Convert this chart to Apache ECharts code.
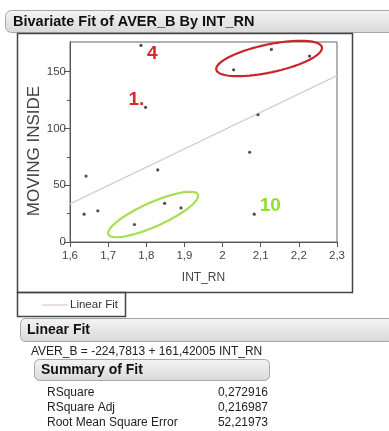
<!DOCTYPE html>
<html>
<head>
<meta charset="utf-8">
<script src="https://cdn.jsdelivr.net/npm/echarts@6/dist/echarts.min.js"></script>
<style>
html,body{margin:0;padding:0;background:#fff;}
#c{width:389px;height:431px;}
</style>
</head>
<body>
<div id="c"></div>
<script>
// ---- data ----
var intRN   = [1.786, 1.798, 1.642, 1.830, 2.029, 2.128, 2.228, 2.093, 2.071, 1.637, 1.673, 1.769, 1.848, 1.891, 2.083];
var averB   = [173, 118.5, 58, 63.4, 151.5, 169.5, 163.6, 112, 79, 24.5, 27.4, 15.4, 34, 30, 24.5];
var fitIntercept = -224.7813;
var fitSlope = 161.42005;
var xTicks = [1.6, 1.7, 1.8, 1.9, 2.0, 2.1, 2.2, 2.3];
var yTicks = [0, 50, 100, 150];
var yMinorTicks = [25, 75, 125];
var statNames  = ['RSquare', 'RSquare Adj', 'Root Mean Square Error'];
var statValues = ['0,272916', '0,216987', '52,21973'];
var equationText = 'AVER_B = -224,7813 + 161,42005 INT_RN';
// annotations: label, anchor (data coords), colour
var notes = [
  {text: '4',  x: 1.816, y: 166, color: '#d42a2a'},
  {text: '1.', x: 1.774, y: 125, color: '#d42a2a'},
  {text: '10', x: 2.125, y: 32,  color: '#8fe02e'}
];
var rings = [
  {x: 2.122, y: 161.5, a: 54, b: 14, rot: 12, color: '#c8262b'},
  {x: 1.818, y: 24.2,  a: 49, b: 12, rot: 24, color: '#a4e050'}
];

var FONT = '"Liberation Sans", Arial, sans-serif';
var pts = intRN.map(function (x, i) { return [x, averB[i]]; });
var xMin = 1.6, xMax = 2.3;
var fitLine = [[xMin, fitIntercept + fitSlope * xMin], [xMax, fitIntercept + fitSlope * xMax]];
function fmtX(v) { return String(Math.round(v * 10) / 10).replace('.', ','); }

var chart = echarts.init(document.getElementById('c'), null, {renderer: 'canvas'});

var option = {
  animation: false,
  backgroundColor: '#fff',
  grid: {left: 70, right: 52, top: 42, bottom: 189, show: true, borderColor: '#666', borderWidth: 1, backgroundColor: 'transparent'},
  xAxis: {
    type: 'value', min: xMin, max: xMax, interval: 0.1,
    name: 'INT_RN', nameLocation: 'middle', nameGap: 30,
    nameTextStyle: {fontFamily: FONT, fontSize: 12, color: '#444'},
    axisLine: {show: true, lineStyle: {color: '#555', width: 1}},
    axisTick: {show: true, length: 5, lineStyle: {color: '#555'}, customValues: xTicks},
    axisLabel: {fontFamily: FONT, fontSize: 11.5, color: '#444', margin: 8, formatter: fmtX, customValues: xTicks},
    splitLine: {show: false}
  },
  yAxis: [{
    type: 'value', min: 0, max: 176,
    axisLine: {show: true, lineStyle: {color: '#555', width: 1}},
    axisTick: {show: true, length: 6, lineStyle: {color: '#555'}, customValues: yTicks},
    axisLabel: {fontFamily: FONT, fontSize: 11.5, color: '#444', margin: 4, customValues: yTicks},
    splitLine: {show: false}
  }, {
    type: 'value', min: 0, max: 176, position: 'left',
    axisLine: {show: false},
    axisTick: {show: true, length: 3, lineStyle: {color: '#555'}, customValues: yMinorTicks},
    axisLabel: {show: false},
    splitLine: {show: false}
  }],
  series: [{
    type: 'line', data: fitLine, symbol: 'none', silent: true,
    lineStyle: {color: '#dccccc', width: 1.3}, z: 1
  }, {
    type: 'scatter', data: pts, symbolSize: 3.2,
    itemStyle: {color: '#222'}, z: 3
  }]
};
chart.setOption(option);

var g = [];
// header bar
g.push({type: 'rect', shape: {x: 5.5, y: 10.5, width: 400, height: 22, r: 6},
  style: {fill: new echarts.graphic.LinearGradient(0, 0, 0, 1, [{offset: 0, color: '#f4f4f4'}, {offset: 1, color: '#d9d9d9'}]), stroke: '#a8a8a8', lineWidth: 1}, z: 0});
g.push({type: 'text', x: 13, y: 22, style: {text: 'Bivariate Fit of AVER_B By INT_RN', font: 'bold 14.5px ' + FONT, fill: '#111', verticalAlign: 'middle'}});
// outer frame
g.push({type: 'rect', shape: {x: 17.5, y: 33.5, width: 335, height: 259}, style: {fill: 'none', stroke: '#444', lineWidth: 1.5}, silent: true});
// legend box
g.push({type: 'rect', shape: {x: 17.5, y: 292.5, width: 108, height: 24}, style: {fill: 'none', stroke: '#444', lineWidth: 1.5}});
g.push({type: 'line', shape: {x1: 42, y1: 305, x2: 68, y2: 305}, style: {stroke: '#dccccc', lineWidth: 1.3}});
g.push({type: 'text', x: 70, y: 305, style: {text: 'Linear Fit', font: '11.5px ' + FONT, fill: '#333', verticalAlign: 'middle'}});
// y axis title
g.push({type: 'text', x: 34, y: 151, rotation: Math.PI / 2, style: {text: 'MOVING INSIDE', font: '17px ' + FONT, fill: '#444', align: 'center', verticalAlign: 'middle'}});
// Linear Fit header
g.push({type: 'rect', shape: {x: 20.5, y: 318.5, width: 380, height: 23, r: 5},
  style: {fill: new echarts.graphic.LinearGradient(0, 0, 0, 1, [{offset: 0, color: '#f4f4f4'}, {offset: 1, color: '#d9d9d9'}]), stroke: '#a8a8a8', lineWidth: 1}});
g.push({type: 'text', x: 27, y: 330, style: {text: 'Linear Fit', font: 'bold 14px ' + FONT, fill: '#111', verticalAlign: 'middle'}});
g.push({type: 'text', x: 31, y: 352, style: {text: equationText, font: '12px ' + FONT, fill: '#222', verticalAlign: 'middle'}});
// Summary box
g.push({type: 'rect', shape: {x: 34.5, y: 359.5, width: 235, height: 21, r: 5},
  style: {fill: new echarts.graphic.LinearGradient(0, 0, 0, 1, [{offset: 0, color: '#f4f4f4'}, {offset: 1, color: '#d9d9d9'}]), stroke: '#a8a8a8', lineWidth: 1}});
g.push({type: 'text', x: 41, y: 370, style: {text: 'Summary of Fit', font: 'bold 14px ' + FONT, fill: '#111', verticalAlign: 'middle'}});
statNames.forEach(function (n, i) {
  var yy = 393 + i * 15;
  g.push({type: 'text', x: 47, y: yy, style: {text: n, font: '12px ' + FONT, fill: '#222', verticalAlign: 'middle'}});
  g.push({type: 'text', x: 268, y: yy, style: {text: statValues[i], font: '12px ' + FONT, fill: '#222', align: 'right', verticalAlign: 'middle'}});
});
// annotations tied to data coordinates
notes.forEach(function (n) {
  var p = chart.convertToPixel({gridIndex: 0}, [n.x, n.y]);
  g.push({type: 'text', x: p[0], y: p[1], z: 10, style: {text: n.text, font: 'bold 19px ' + FONT, fill: n.color, align: 'center', verticalAlign: 'middle'}});
});
rings.forEach(function (r) {
  var c = chart.convertToPixel({gridIndex: 0}, [r.x, r.y]);
  var ptsE = [];
  var th = -r.rot * Math.PI / 180;
  for (var k = 0; k < 72; k++) {
    var t = k / 72 * Math.PI * 2;
    var ex = r.a * Math.cos(t), ey = r.b * Math.sin(t);
    ptsE.push([c[0] + ex * Math.cos(th) - ey * Math.sin(th), c[1] + ex * Math.sin(th) + ey * Math.cos(th)]);
  }
  g.push({type: 'polygon', z: 10, shape: {points: ptsE}, style: {fill: 'none', stroke: r.color, lineWidth: 2.2}});
});
chart.setOption({graphic: g});
</script>
</body>
</html>
